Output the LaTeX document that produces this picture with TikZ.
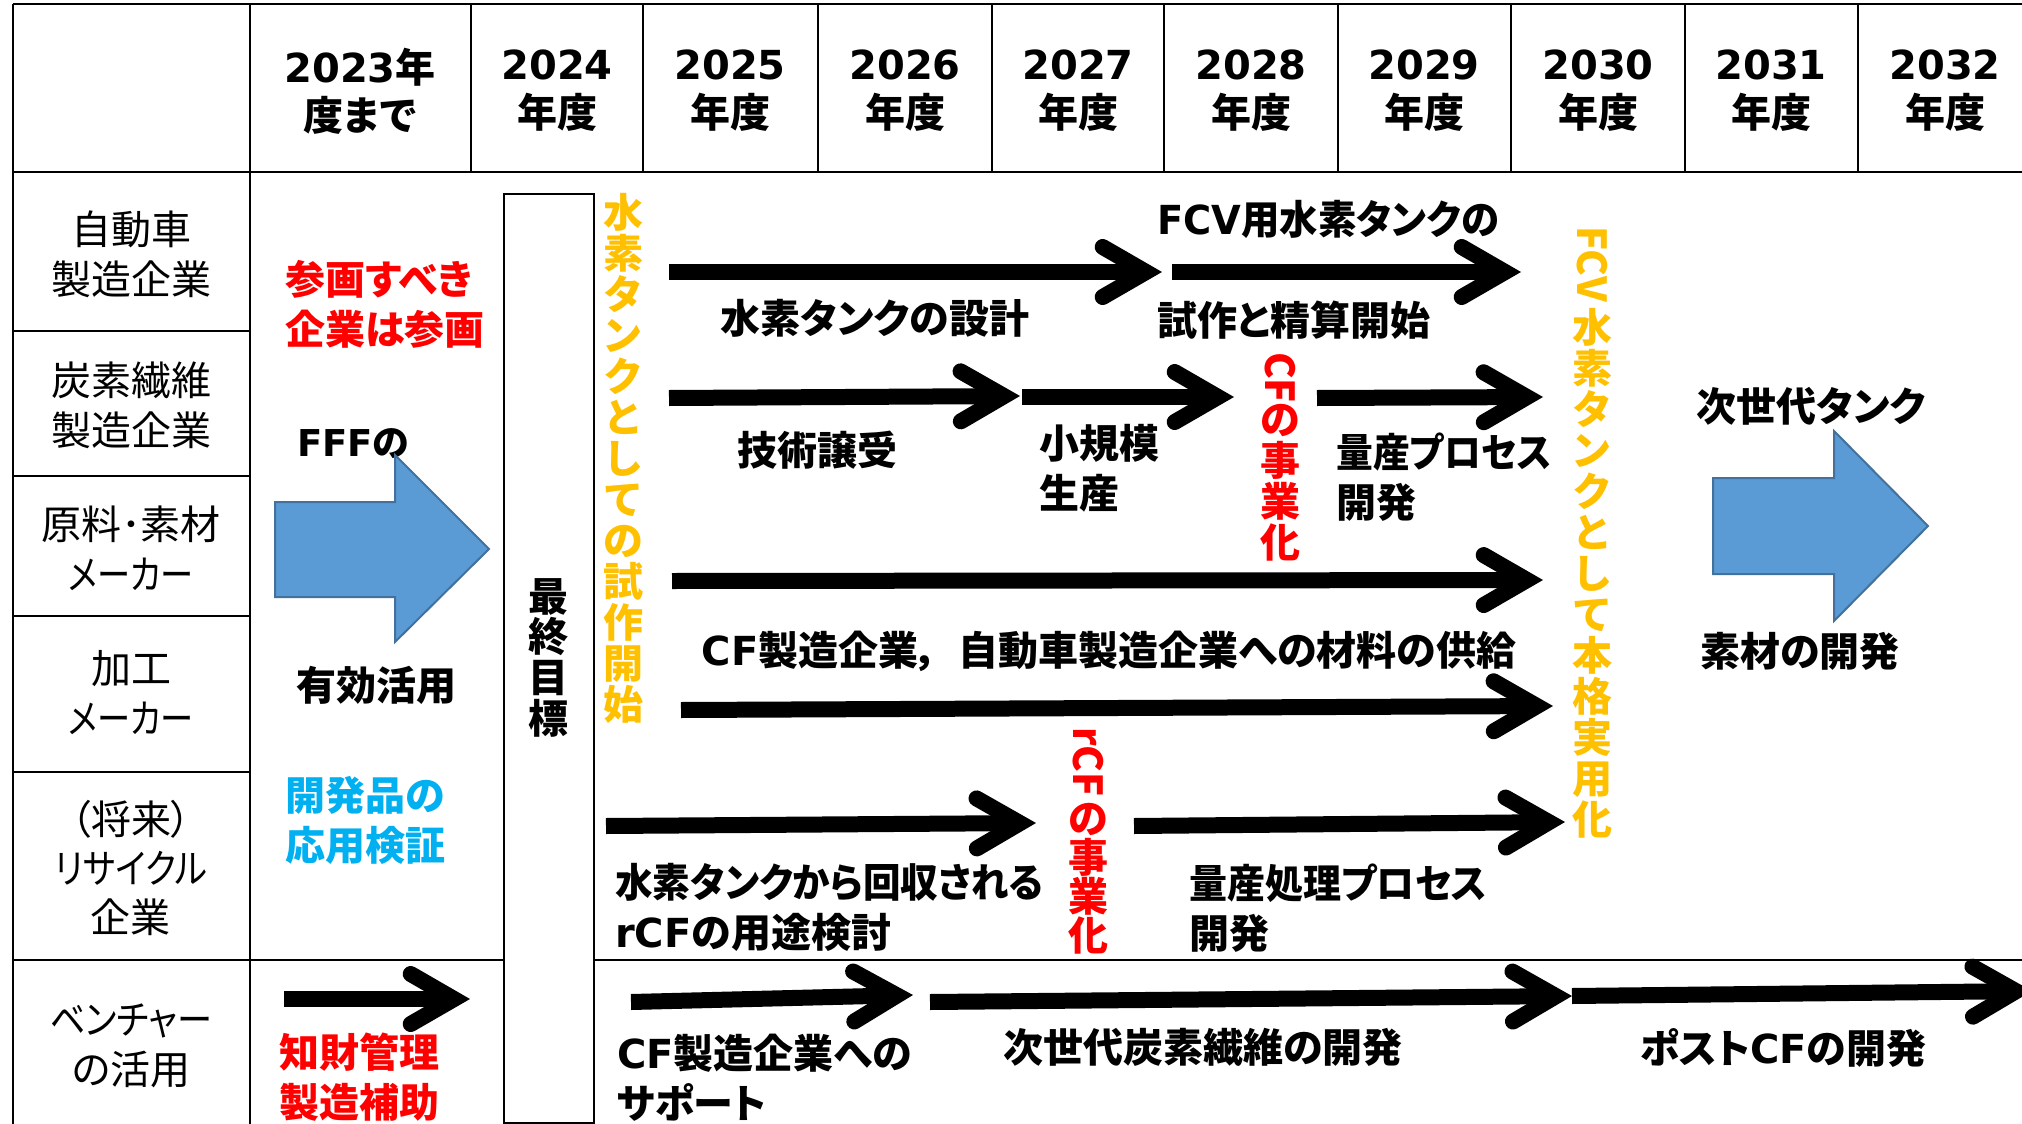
\documentclass[tikz,border=0pt]{standalone}
\usepackage{fontspec}
\usepackage{graphicx}
\setmainfont{Noto Sans CJK JP}[RawFeature=+palt]
\newfontfamily\latfont{DejaVu Sans}
\usetikzlibrary{calc}
\definecolor{jred}{RGB}{255,0,0}
\definecolor{jorange}{RGB}{255,192,0}
\definecolor{jcyan}{RGB}{0,176,240}
\definecolor{jblue}{RGB}{91,155,213}
\definecolor{jblueline}{RGB}{65,113,156}
\newcommand\LatRun[1]{{\latfont #1}}
\newcommand\HSq[2]{\scalebox{#1}[1]{#2}}
\newcommand\bigarrow[2]{%
  \coordinate (#2-a) at ($(#2)!16pt!(#1)$);
  \draw[shaftline] (#1) -- (#2-a);
  \draw[barbline] ($(#2-a)!50pt!30:(#1)$) -- (#2-a) -- ($(#2-a)!50pt!-30:(#1)$);
}
\tikzset{
  gridline/.style={line width=2.6pt, draw=black},
  shaftline/.style={line width=16pt, line cap=butt},
  barbline/.style={line width=16pt, line cap=round, line join=miter, miter limit=10},
  hd/.style={font=\fontsize{40}{48}\selectfont\bfseries, align=center, inner sep=0pt},
  lbl/.style={font=\fontsize{40}{50}\selectfont, align=center, inner sep=0pt},
  txt/.style={font=\fontsize{40}{50}\selectfont\bfseries, align=left, inner sep=0pt},
  vt/.style={font=\fontsize{40}{41}\selectfont\bfseries, align=center, inner sep=0pt},
  blockarrow/.style={fill=jblue, draw=jblueline, line width=2pt, line join=miter},
  goalbox/.style={draw=black, fill=white, line width=2pt, inner sep=0pt, minimum width=90pt, minimum height=929pt},
}
\begin{document}
\begin{tikzpicture}[x=1pt,y=-1pt]
\useasboundingbox (0,0) rectangle (2022,1124);
\fill[white] (0,0) rectangle (2022,1124);
% grid
\draw[gridline] (13,4) -- (2030,4);
\draw[gridline] (13,172) -- (2030,172);
\draw[gridline] (13,960) -- (2030,960);
\draw[gridline] (13,4) -- (13,1130);
\draw[gridline] (250,4) -- (250,1130);
\foreach \x in {471,643,818,992,1164,1338,1511,1685,1858} \draw[gridline] (\x,4) -- (\x,172);
\foreach \y in {331,476,616,772} \draw[gridline] (13,\y) -- (250,\y);
% header
\node[hd] (h1) at (360,91) {\LatRun{2023}年\\度まで};
\node[hd] (h2) at (557,91) {\LatRun{2024}\\年度};
\node[hd] (h3) at (730,91) {\LatRun{2025}\\年度};
\node[hd] (h4) at (905,91) {\LatRun{2026}\\年度};
\node[hd] (h5) at (1078,91) {\LatRun{2027}\\年度};
\node[hd] (h6) at (1251,91) {\LatRun{2028}\\年度};
\node[hd] (h7) at (1424,91) {\LatRun{2029}\\年度};
\node[hd] (h8) at (1598,91) {\LatRun{2030}\\年度};
\node[hd] (h9) at (1771,91) {\LatRun{2031}\\年度};
\node[hd] (h10) at (1945,91) {\LatRun{2032}\\年度};
% row labels
\node[lbl] (r1) at (131,254) {自動車\\製造企業};
\node[lbl] (r2) at (131,405) {炭素繊維\\製造企業};
\node[lbl] (r3) at (131,548) {原料･素材\\\HSq{0.83}{メーカー}};
\node[lbl] (r4) at (131,693) {加工\\\HSq{0.83}{メーカー}};
\node[lbl, font=\fontsize{40}{49}\selectfont] (r5) at (131,868) {（将来）\\\HSq{0.86}{リサイクル}\\企業};
\node[lbl] (r6) at (131,1046) {\HSq{0.88}{ベンチャー}\\の活用};
% left column
\node[txt, text=jred, anchor=west] (p1) at (285,304) {参画すべき\\企業は参画};
\node[txt, anchor=west, font=\fontsize{37}{50}\selectfont\bfseries] (p2) at (297,444) {\LatRun{FFF}の};
\node[txt, anchor=west] (p3) at (296,685) {有効活用};
\node[txt, text=jcyan, anchor=west] (p4) at (285,820) {開発品の\\応用検証};
\node[txt, text=jred, anchor=west] (p5) at (279,1077) {知財管理\\製造補助};
\draw[blockarrow] (275,502) -- (395,502) -- (395,455) -- (489,549) -- (395,642) -- (395,597) -- (275,597) -- cycle;
\draw[blockarrow] (1713,478) -- (1834,478) -- (1834,431) -- (1928,526) -- (1834,621) -- (1834,574) -- (1713,574) -- cycle;
% goal box
\node[goalbox, anchor=north west] (goal) at (503,193) {};
\node[vt, anchor=north, font=\fontsize{40}{40.7}\selectfont\bfseries] (goaltxt) at (548,578) {最\\終\\目\\標};
% vertical texts
\node[vt, text=jorange, anchor=north] (v1) at (623,193) {水\\素\\タ\\ン\\ク\\と\\し\\て\\の\\試\\作\\開\\始};
\node[vt, text=jred, rotate=-90, anchor=west] (v3a) at (1280,352) {CF};
\node[vt, text=jred, anchor=north] (v3b) at (1280,404) {の\\事\\業\\化};
\node[vt, text=jred, rotate=-90, anchor=west] (v4a) at (1088,727) {rCF};
\node[vt, text=jred, anchor=north, font=\fontsize{40}{39}\selectfont\bfseries] (v4b) at (1088,803) {の\\事\\業\\化};
\node[vt, text=jorange, rotate=-90, anchor=west] (v5a) at (1592,226) {FCV};
\node[vt, text=jorange, anchor=north] (v5b) at (1592,308) {水\\素\\タ\\ン\\ク\\と\\し\\て\\本\\格\\実\\用\\化};
% texts
\node[txt] (t1) at (875,318) {水素タンクの設計};
\node[txt, anchor=west] (t2) at (1157,219) {\HSq{0.96}{\LatRun{FCV}用水素タンクの}};
\node[txt, anchor=west] (t3) at (1157,320) {試作と精算開始};
\node[txt] (t4) at (817,450) {技術譲受};
\node[txt, anchor=west] (t5) at (1039,468) {小規模\\生産};
\node[txt, anchor=west] (t6) at (1336,477) {\HSq{0.92}{量産プロセス}\\開発};
\node[txt] (t7) at (1109,651) {\LatRun{CF}製造企業，\kern20pt 自動車製造企業への材料の供給};
\node[txt, anchor=west] (t8) at (615,907) {\HSq{0.94}{水素タンクから回収される}\\\LatRun{rCF}の用途検討};
\node[txt, anchor=west] (t9) at (1189,908) {\HSq{0.95}{量産処理プロセス}\\開発};
\node[txt, anchor=west] (t10) at (617,1078) {\LatRun{CF}製造企業への\\サポート};
\node[txt] (t11) at (1203,1047) {次世代炭素繊維の開発};
\node[txt] (t12) at (1783,1048) {ポスト\LatRun{CF}の開発};
\node[txt] (t13) at (1811,406) {次世代タンク};
\node[txt] (t14) at (1800,651) {素材の開発};
% arrows
\coordinate (a1s) at (669,272);  \coordinate (a1e) at (1162,272);
\coordinate (a2s) at (1172,272); \coordinate (a2e) at (1521,272);
\coordinate (a3s) at (669,398);  \coordinate (a3e) at (1020,396);
\coordinate (a4s) at (1022,397); \coordinate (a4e) at (1234,397);
\coordinate (a5s) at (1317,398); \coordinate (a5e) at (1543,397);
\coordinate (a6s) at (672,581);  \coordinate (a6e) at (1543,580);
\coordinate (a7s) at (681,710);  \coordinate (a7e) at (1553,706);
\coordinate (a8s) at (606,826);  \coordinate (a8e) at (1036,823);
\coordinate (a9s) at (1134,826); \coordinate (a9e) at (1565,822);
\coordinate (a10s) at (284,999); \coordinate (a10e) at (470,999);
\coordinate (a11s) at (631,1002); \coordinate (a11e) at (913,995);
\coordinate (a12s) at (930,1002); \coordinate (a12e) at (1572,996);
\coordinate (a13s) at (1572,996); \coordinate (a13e) at (2032,991);
\bigarrow{a1s}{a1e}
\bigarrow{a2s}{a2e}
\bigarrow{a3s}{a3e}
\bigarrow{a4s}{a4e}
\bigarrow{a5s}{a5e}
\bigarrow{a6s}{a6e}
\bigarrow{a7s}{a7e}
\bigarrow{a8s}{a8e}
\bigarrow{a9s}{a9e}
\bigarrow{a10s}{a10e}
\bigarrow{a11s}{a11e}
\bigarrow{a12s}{a12e}
\bigarrow{a13s}{a13e}
\end{tikzpicture}
\end{document}
